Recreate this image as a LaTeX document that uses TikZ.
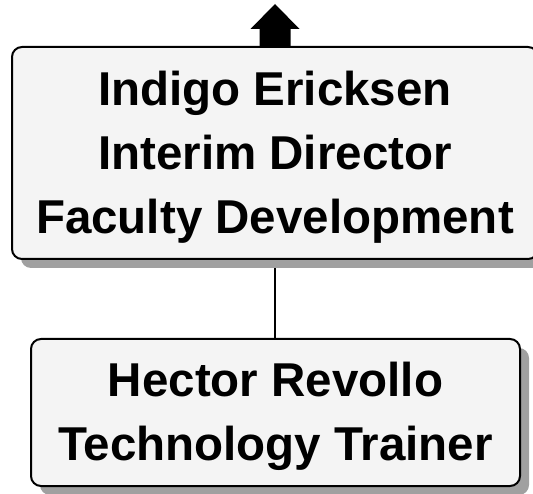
\documentclass[tikz,border=0pt]{standalone}
\usepackage{fontspec}
\setmainfont{Liberation Sans}
\usetikzlibrary{shadows,backgrounds}
\definecolor{boxfill}{HTML}{F4F4F4}
\definecolor{shadowgray}{HTML}{A0A0A0}
\newcommand{\boxstrut}{\rule{0pt}{43pt}}

\begin{document}
\begin{tikzpicture}[x=1pt, y=1pt,
    every node/.style={font=\fontsize{47.5}{64}\selectfont\bfseries},
    orgbox/.style={draw, line width=2pt, rounded corners=10pt, fill=boxfill,
      align=center, inner sep=0pt,
      drop shadow={shadow xshift=9pt, shadow yshift=-9pt, fill=shadowgray, opacity=1}}]
        \useasboundingbox (0,0) rectangle (533,-494);
        \node[orgbox, minimum width=526pt, minimum height=212pt] (director) at (275,-153)
          {\boxstrut Indigo Ericksen\\Interim Director\\Faculty Development};
        \node[orgbox, minimum width=489pt, minimum height=147pt] (trainer) at (275.5,-412.5)
          {\boxstrut Hector Revollo\\Technology Trainer};
        % link to the box above
        \fill ([xshift=-15.5pt]director.north) -- ++(0,17) -- ++(-9,0)
          -- ([yshift=42pt]director.north) -- ([shift={(24.5pt,17pt)}]director.north)
          -- ++(-9,0) -- ([xshift=15.5pt]director.north) -- cycle;
        \begin{pgfonlayer}{background}
          \draw[line width=1.5pt] (director.south) -- (director.south |- trainer.north);
        \end{pgfonlayer}
    \end{tikzpicture}
\end{document}
